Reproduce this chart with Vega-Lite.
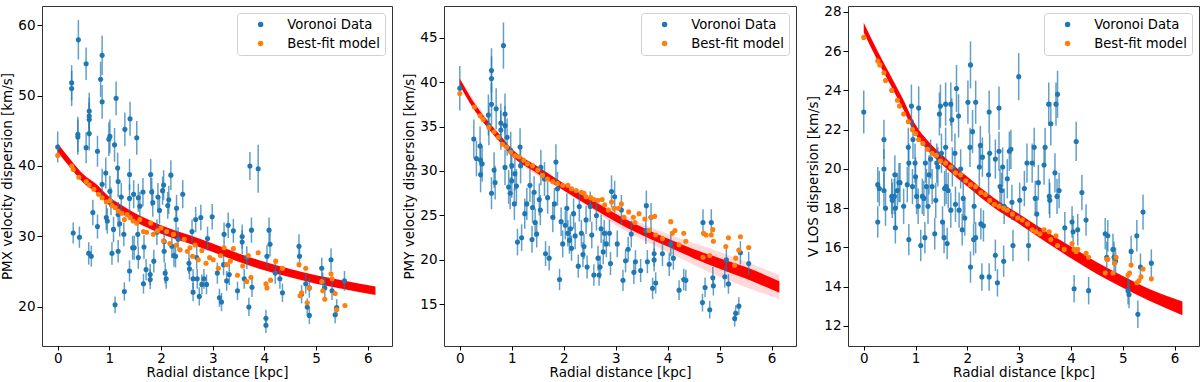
{
"$schema": "https://vega.github.io/schema/vega-lite/v6.json",
"background": "white",
"padding": {"left": 0, "top": 4, "right": 0, "bottom": 0},
"spacing": 9,
"config": {
 "view": {"stroke": "#333", "strokeWidth": 1},
 "axis": {"grid": false, "domain": false, "tickColor": "black", "tickSize": 5, "tickWidth": 1, "labelFont": "DejaVu Sans", "labelFontSize": 13.5, "labelColor": "black", "titleFont": "DejaVu Sans", "titleFontSize": 13.5, "titleFontWeight": "normal", "titleColor": "black", "labelPadding": 2, "titlePadding": 3},
 "axisX": {"tickSize": 4, "labelPadding": 1, "titlePadding": 1},
 "legend": {"orient": "top-right", "offset": 7, "fillColor": "white", "strokeColor": "#d0d0d0", "cornerRadius": 3, "padding": 5, "symbolType": "circle", "symbolSize": 30, "labelFont": "DejaVu Sans", "labelFontSize": 13.2, "labelColor": "black", "labelOffset": 20, "symbolOffset": 12, "rowPadding": 5}
},
"datasets": {
 "b1": [{"r":0,"v":42.0,"v2":43.2},{"r":0.25,"v":39.7,"v2":40.9},{"r":0.5,"v":37.6,"v2":38.8},{"r":0.75,"v":36.2,"v2":37.4},{"r":1,"v":34.4,"v2":35.6},{"r":1.25,"v":33.2,"v2":34.4},{"r":1.5,"v":32.1,"v2":33.3},{"r":1.75,"v":31.2,"v2":32.4},{"r":2,"v":30.4,"v2":31.6},{"r":2.5,"v":29.1,"v2":30.3},{"r":3,"v":27.8,"v2":29.0},{"r":3.5,"v":26.4,"v2":27.6},{"r":4,"v":25.2,"v2":26.4},{"r":4.5,"v":24.2,"v2":25.4},{"r":5,"v":23.3,"v2":24.5},{"r":5.5,"v":22.6,"v2":23.8},{"r":6.15,"v":21.7,"v2":22.9}],
 "d1": [{"r":0,"v":42.7,"e":2.2},{"r":0.27,"v":51.0,"e":2.5},{"r":0.27,"v":51.8,"e":2.5},{"r":0.3,"v":30.5,"e":1.5},{"r":0.4,"v":57.9,"e":2.8},{"r":0.39,"v":44.5,"e":2.5},{"r":0.39,"v":44.1,"e":2.5},{"r":0.42,"v":29.9,"e":1.5},{"r":0.55,"v":54.5,"e":2.3},{"r":0.55,"v":42.6,"e":2.2},{"r":0.61,"v":47.8,"e":2.6},{"r":0.61,"v":47.1,"e":2.6},{"r":0.61,"v":46.6,"e":2.4},{"r":0.61,"v":44.6,"e":2.4},{"r":0.6,"v":27.6,"e":1.6},{"r":0.65,"v":27.2,"e":1.5},{"r":0.68,"v":33.4,"e":1.8},{"r":0.77,"v":42.1,"e":2.2},{"r":0.77,"v":31.4,"e":1.7},{"r":0.83,"v":52.3,"e":2.5},{"r":0.86,"v":55.7,"e":2.8},{"r":0.86,"v":49.1,"e":2.4},{"r":0.86,"v":37.4,"e":2.2},{"r":0.93,"v":39.0,"e":2.2},{"r":0.94,"v":32.7,"e":1.8},{"r":0.96,"v":32.2,"e":1.8},{"r":1.01,"v":44.2,"e":2.4},{"r":0.99,"v":43.8,"e":2.4},{"r":1.01,"v":36.4,"e":2.2},{"r":1.03,"v":35.0,"e":2.0},{"r":1.05,"v":27.6,"e":1.6},{"r":1.08,"v":31.0,"e":1.8},{"r":1.1,"v":43.0,"e":2.4},{"r":1.11,"v":20.3,"e":1.2},{"r":1.13,"v":49.6,"e":2.4},{"r":1.16,"v":39.7,"e":2.2},{"r":1.17,"v":37.8,"e":2.2},{"r":1.17,"v":33.1,"e":1.8},{"r":1.2,"v":31.8,"e":1.8},{"r":1.17,"v":27.9,"e":1.6},{"r":1.23,"v":35.6,"e":2.0},{"r":1.28,"v":30.3,"e":1.7},{"r":1.29,"v":22.2,"e":1.3},{"r":1.3,"v":45.2,"e":2.4},{"r":1.39,"v":38.8,"e":2.2},{"r":1.39,"v":35.4,"e":2.0},{"r":1.39,"v":25.1,"e":1.5},{"r":1.4,"v":46.7,"e":2.4},{"r":1.45,"v":28.4,"e":1.7},{"r":1.48,"v":28.4,"e":1.7},{"r":1.47,"v":36.0,"e":2.0},{"r":1.53,"v":44.0,"e":2.4},{"r":1.55,"v":30.3,"e":1.7},{"r":1.56,"v":35.5,"e":2.0},{"r":1.56,"v":27.0,"e":1.6},{"r":1.59,"v":34.3,"e":2.0},{"r":1.65,"v":36.3,"e":2.0},{"r":1.66,"v":23.3,"e":1.4},{"r":1.67,"v":28.5,"e":1.7},{"r":1.71,"v":25.3,"e":1.5},{"r":1.79,"v":24.6,"e":1.5},{"r":1.79,"v":23.9,"e":1.4},{"r":1.8,"v":38.8,"e":2.2},{"r":1.82,"v":36.3,"e":2.0},{"r":1.84,"v":34.8,"e":2.0},{"r":1.86,"v":26.5,"e":1.6},{"r":1.92,"v":30.6,"e":1.8},{"r":1.94,"v":35.6,"e":2.0},{"r":1.97,"v":33.7,"e":1.9},{"r":2.03,"v":36.5,"e":2.0},{"r":2.05,"v":37.3,"e":2.1},{"r":2.06,"v":29.3,"e":1.7},{"r":2.06,"v":27.9,"e":1.6},{"r":2.08,"v":24.8,"e":1.5},{"r":2.1,"v":24.0,"e":1.4},{"r":2.13,"v":34.4,"e":1.9},{"r":2.15,"v":35.2,"e":2.0},{"r":2.19,"v":38.7,"e":2.1},{"r":2.21,"v":28.6,"e":1.7},{"r":2.25,"v":27.3,"e":1.6},{"r":2.28,"v":27.2,"e":1.6},{"r":2.29,"v":32.4,"e":1.8},{"r":2.3,"v":34.0,"e":1.9},{"r":2.33,"v":29.6,"e":1.7},{"r":2.42,"v":36.0,"e":2.0},{"r":2.54,"v":26.2,"e":1.5},{"r":2.55,"v":25.4,"e":1.5},{"r":2.6,"v":30.7,"e":1.7},{"r":2.62,"v":24.0,"e":1.4},{"r":2.62,"v":22.1,"e":1.3},{"r":2.67,"v":32.4,"e":1.8},{"r":2.69,"v":27.0,"e":1.6},{"r":2.7,"v":24.0,"e":1.4},{"r":2.74,"v":21.5,"e":1.3},{"r":2.77,"v":32.7,"e":1.8},{"r":2.79,"v":23.2,"e":1.4},{"r":2.83,"v":24.0,"e":1.4},{"r":2.88,"v":23.2,"e":1.4},{"r":2.9,"v":29.7,"e":1.7},{"r":2.99,"v":32.8,"e":1.8},{"r":3.09,"v":24.8,"e":1.5},{"r":3.13,"v":21.3,"e":1.3},{"r":3.17,"v":20.7,"e":1.3},{"r":3.21,"v":26.0,"e":1.5},{"r":3.22,"v":30.3,"e":1.7},{"r":3.27,"v":23.7,"e":1.4},{"r":3.3,"v":31.6,"e":1.8},{"r":3.32,"v":24.6,"e":1.5},{"r":3.4,"v":30.8,"e":1.7},{"r":3.48,"v":22.3,"e":1.3},{"r":3.57,"v":30.0,"e":1.7},{"r":3.57,"v":29.2,"e":1.7},{"r":3.61,"v":24.0,"e":1.4},{"r":3.66,"v":27.0,"e":1.6},{"r":3.7,"v":20.0,"e":1.3},{"r":3.72,"v":40.0,"e":2.0},{"r":3.75,"v":30.9,"e":1.8},{"r":3.76,"v":22.8,"e":1.4},{"r":3.88,"v":39.6,"e":3.4},{"r":4.03,"v":18.4,"e":1.2},{"r":4.03,"v":17.4,"e":1.1},{"r":4.05,"v":27.2,"e":1.6},{"r":4.09,"v":30.9,"e":1.8},{"r":4.11,"v":28.9,"e":1.7},{"r":4.21,"v":24.8,"e":1.5},{"r":4.3,"v":24.0,"e":1.4},{"r":4.35,"v":22.0,"e":1.3},{"r":4.67,"v":28.6,"e":1.7},{"r":4.68,"v":27.2,"e":1.6},{"r":4.72,"v":21.8,"e":1.3},{"r":4.8,"v":23.3,"e":1.4},{"r":4.83,"v":20.0,"e":1.2},{"r":4.87,"v":18.8,"e":1.2},{"r":4.87,"v":22.7,"e":1.4},{"r":5.11,"v":25.5,"e":1.5},{"r":5.13,"v":23.5,"e":1.4},{"r":5.17,"v":22.7,"e":1.4},{"r":5.29,"v":26.7,"e":1.6},{"r":5.31,"v":22.3,"e":1.3},{"r":5.37,"v":18.9,"e":1.2},{"r":5.4,"v":19.9,"e":1.2},{"r":5.55,"v":23.7,"e":1.4}],
 "m1": [{"r":0,"v":41.5},{"r":0.27,"v":40.0},{"r":0.3,"v":39.5},{"r":0.41,"v":38.4},{"r":0.55,"v":37.8},{"r":0.61,"v":37.3},{"r":0.7,"v":36.7},{"r":0.79,"v":36.0},{"r":0.86,"v":35.5},{"r":0.94,"v":34.9},{"r":1.01,"v":35.1},{"r":1.05,"v":34.4},{"r":1.11,"v":34.1},{"r":1.17,"v":33.6},{"r":1.24,"v":33.3},{"r":1.29,"v":32.4},{"r":1.34,"v":33.1},{"r":1.4,"v":32.7},{"r":1.46,"v":32.2},{"r":1.53,"v":31.9},{"r":1.59,"v":32.4},{"r":1.66,"v":30.7},{"r":1.72,"v":30.6},{"r":1.8,"v":31.9},{"r":1.85,"v":30.3},{"r":1.93,"v":30.8},{"r":2.0,"v":31.2},{"r":2.05,"v":29.4},{"r":2.11,"v":30.7},{"r":2.17,"v":29.0},{"r":2.24,"v":30.3},{"r":2.3,"v":28.8},{"r":2.37,"v":28.1},{"r":2.45,"v":29.6},{"r":2.51,"v":27.9},{"r":2.56,"v":28.4},{"r":2.61,"v":27.2},{"r":2.66,"v":28.8},{"r":2.72,"v":26.7},{"r":2.79,"v":28.0},{"r":2.87,"v":26.2},{"r":2.94,"v":27.0},{"r":3.01,"v":26.7},{"r":3.11,"v":25.5},{"r":3.15,"v":27.3},{"r":3.22,"v":28.4},{"r":3.27,"v":26.0},{"r":3.34,"v":26.5},{"r":3.4,"v":28.3},{"r":3.48,"v":24.5},{"r":3.58,"v":25.8},{"r":3.66,"v":23.6},{"r":3.69,"v":27.3},{"r":3.74,"v":24.2},{"r":3.88,"v":27.7},{"r":4.03,"v":23.3},{"r":4.05,"v":22.7},{"r":4.12,"v":23.8},{"r":4.22,"v":26.5},{"r":4.35,"v":25.5},{"r":4.67,"v":26.0},{"r":4.69,"v":21.6},{"r":4.72,"v":22.0},{"r":4.8,"v":25.5},{"r":4.83,"v":20.6},{"r":4.87,"v":22.7},{"r":5.11,"v":23.6},{"r":5.13,"v":22.3},{"r":5.17,"v":21.1},{"r":5.29,"v":24.7},{"r":5.31,"v":24.0},{"r":5.37,"v":21.9},{"r":5.4,"v":19.6},{"r":5.56,"v":20.2}],
 "b2o": [{"r":0,"v":39.6,"v2":40.4},{"r":1,"v":31.7,"v2":32.5},{"r":2,"v":27.8,"v2":28.6},{"r":2.5,"v":25.9,"v2":27.0},{"r":3,"v":23.9,"v2":25.5},{"r":4,"v":20.9,"v2":22.9},{"r":5,"v":18.1,"v2":20.9},{"r":6.15,"v":15.6,"v2":18.3}],
 "b2": [{"r":0,"v":39.6,"v2":40.4},{"r":0.25,"v":37.1,"v2":37.9},{"r":0.5,"v":35.1,"v2":35.9},{"r":0.75,"v":33.4,"v2":34.2},{"r":1,"v":31.7,"v2":32.5},{"r":1.5,"v":29.7,"v2":30.5},{"r":2,"v":27.8,"v2":28.6},{"r":2.5,"v":26.0,"v2":26.9},{"r":3,"v":24.3,"v2":25.2},{"r":3.5,"v":22.8,"v2":23.7},{"r":4,"v":21.5,"v2":22.4},{"r":4.5,"v":20.2,"v2":21.2},{"r":5,"v":19.0,"v2":20.2},{"r":5.5,"v":17.9,"v2":19.2},{"r":6.15,"v":16.3,"v2":17.6}],
 "d2": [{"r":0,"v":39.3,"e":2.5},{"r":0.27,"v":33.6,"e":2.2},{"r":0.32,"v":31.4,"e":2.0},{"r":0.39,"v":32.8,"e":2.2},{"r":0.4,"v":31.2,"e":2.0},{"r":0.4,"v":29.6,"e":2.0},{"r":0.43,"v":30.8,"e":2.0},{"r":0.55,"v":36.3,"e":2.3},{"r":0.56,"v":35.1,"e":2.2},{"r":0.61,"v":41.3,"e":2.5},{"r":0.61,"v":40.4,"e":2.5},{"r":0.61,"v":37.5,"e":2.3},{"r":0.61,"v":27.5,"e":1.8},{"r":0.66,"v":30.1,"e":2.0},{"r":0.68,"v":28.7,"e":1.9},{"r":0.7,"v":37.0,"e":2.3},{"r":0.79,"v":35.4,"e":2.2},{"r":0.79,"v":34.6,"e":2.2},{"r":0.84,"v":44.1,"e":2.6},{"r":0.87,"v":36.4,"e":2.3},{"r":0.87,"v":35.1,"e":2.2},{"r":0.87,"v":30.4,"e":2.0},{"r":0.91,"v":33.8,"e":2.1},{"r":0.94,"v":28.2,"e":1.9},{"r":0.97,"v":27.5,"e":1.8},{"r":0.98,"v":32.3,"e":2.1},{"r":1.0,"v":30.6,"e":2.0},{"r":1.0,"v":28.9,"e":1.9},{"r":1.05,"v":26.3,"e":1.8},{"r":1.06,"v":29.7,"e":1.9},{"r":1.09,"v":28.3,"e":1.9},{"r":1.11,"v":22.0,"e":1.5},{"r":1.16,"v":32.7,"e":2.1},{"r":1.17,"v":30.6,"e":2.0},{"r":1.19,"v":22.5,"e":1.5},{"r":1.25,"v":25.2,"e":1.7},{"r":1.29,"v":26.3,"e":1.8},{"r":1.35,"v":28.4,"e":1.9},{"r":1.39,"v":22.3,"e":1.5},{"r":1.4,"v":25.9,"e":1.7},{"r":1.43,"v":27.6,"e":1.8},{"r":1.45,"v":24.2,"e":1.6},{"r":1.48,"v":22.9,"e":1.5},{"r":1.53,"v":26.8,"e":1.8},{"r":1.55,"v":25.6,"e":1.7},{"r":1.56,"v":30.4,"e":2.0},{"r":1.63,"v":29.1,"e":1.9},{"r":1.65,"v":20.7,"e":1.4},{"r":1.69,"v":27.0,"e":1.8},{"r":1.72,"v":20.2,"e":1.4},{"r":1.79,"v":24.8,"e":1.7},{"r":1.82,"v":26.3,"e":1.8},{"r":1.85,"v":31.0,"e":2.0},{"r":1.88,"v":28.0,"e":1.9},{"r":1.92,"v":17.8,"e":1.2},{"r":1.95,"v":24.3,"e":1.6},{"r":1.98,"v":21.8,"e":1.5},{"r":2.03,"v":23.9,"e":1.6},{"r":2.06,"v":25.8,"e":1.7},{"r":2.08,"v":23.0,"e":1.5},{"r":2.11,"v":22.2,"e":1.5},{"r":2.13,"v":23.5,"e":1.6},{"r":2.15,"v":21.3,"e":1.4},{"r":2.19,"v":25.2,"e":1.7},{"r":2.22,"v":22.7,"e":1.5},{"r":2.28,"v":19.3,"e":1.3},{"r":2.3,"v":26.0,"e":1.7},{"r":2.34,"v":23.0,"e":1.5},{"r":2.37,"v":20.6,"e":1.4},{"r":2.39,"v":21.5,"e":1.4},{"r":2.43,"v":24.5,"e":1.6},{"r":2.45,"v":19.2,"e":1.3},{"r":2.51,"v":26.0,"e":1.7},{"r":2.54,"v":22.8,"e":1.5},{"r":2.58,"v":18.3,"e":1.2},{"r":2.63,"v":25.0,"e":1.7},{"r":2.66,"v":20.2,"e":1.4},{"r":2.68,"v":18.3,"e":1.2},{"r":2.7,"v":19.2,"e":1.3},{"r":2.72,"v":23.5,"e":1.6},{"r":2.76,"v":20.9,"e":1.4},{"r":2.78,"v":23.0,"e":1.5},{"r":2.82,"v":21.8,"e":1.5},{"r":2.88,"v":23.0,"e":1.5},{"r":2.9,"v":19.6,"e":1.3},{"r":2.92,"v":27.7,"e":1.8},{"r":2.98,"v":27.1,"e":1.8},{"r":3.03,"v":21.8,"e":1.5},{"r":3.11,"v":25.6,"e":1.7},{"r":3.14,"v":17.7,"e":1.2},{"r":3.19,"v":19.9,"e":1.3},{"r":3.24,"v":21.2,"e":1.4},{"r":3.3,"v":22.9,"e":1.5},{"r":3.35,"v":18.6,"e":1.3},{"r":3.38,"v":19.8,"e":1.3},{"r":3.48,"v":18.8,"e":1.3},{"r":3.58,"v":23.3,"e":1.5},{"r":3.59,"v":26.1,"e":1.7},{"r":3.61,"v":19.8,"e":1.3},{"r":3.68,"v":24.8,"e":1.6},{"r":3.71,"v":16.8,"e":1.2},{"r":3.74,"v":20.7,"e":1.4},{"r":3.74,"v":20.0,"e":1.3},{"r":3.77,"v":17.4,"e":1.2},{"r":3.9,"v":20.7,"e":1.4},{"r":4.03,"v":19.5,"e":1.3},{"r":4.06,"v":21.8,"e":1.4},{"r":4.11,"v":20.2,"e":1.3},{"r":4.22,"v":16.6,"e":1.1},{"r":4.31,"v":17.8,"e":1.2},{"r":4.35,"v":17.7,"e":1.2},{"r":4.67,"v":15.2,"e":1.0},{"r":4.72,"v":16.9,"e":1.1},{"r":4.68,"v":24.2,"e":1.5},{"r":4.81,"v":14.4,"e":1.0},{"r":4.84,"v":24.2,"e":1.5},{"r":4.87,"v":18.0,"e":1.2},{"r":4.88,"v":17.1,"e":1.1},{"r":5.1,"v":18.1,"e":1.2},{"r":5.13,"v":20.0,"e":1.3},{"r":5.17,"v":17.3,"e":1.1},{"r":5.29,"v":13.4,"e":0.9},{"r":5.31,"v":14.0,"e":0.9},{"r":5.37,"v":14.8,"e":1.0},{"r":5.4,"v":20.8,"e":1.3},{"r":5.56,"v":19.6,"e":1.3}],
 "m2": [{"r":0,"v":38.7},{"r":0.28,"v":37.2},{"r":0.39,"v":36.2},{"r":0.45,"v":35.8},{"r":0.56,"v":34.9},{"r":0.66,"v":34.4},{"r":0.74,"v":33.8},{"r":0.82,"v":33.0},{"r":0.9,"v":32.7},{"r":0.98,"v":32.1},{"r":1.06,"v":31.7},{"r":1.14,"v":31.6},{"r":1.23,"v":31.2},{"r":1.3,"v":30.8},{"r":1.4,"v":30.6},{"r":1.5,"v":30.1},{"r":1.59,"v":29.5},{"r":1.69,"v":29.1},{"r":1.79,"v":28.8},{"r":1.88,"v":28.6},{"r":1.98,"v":28.4},{"r":2.08,"v":28.4},{"r":2.15,"v":28.0},{"r":2.24,"v":27.8},{"r":2.34,"v":27.6},{"r":2.39,"v":27.5},{"r":2.43,"v":27.1},{"r":2.52,"v":27.0},{"r":2.58,"v":26.8},{"r":2.66,"v":26.7},{"r":2.74,"v":26.8},{"r":2.79,"v":26.2},{"r":2.86,"v":25.6},{"r":2.92,"v":26.5},{"r":2.97,"v":25.8},{"r":3.05,"v":25.8},{"r":3.11,"v":26.3},{"r":3.16,"v":24.8},{"r":3.25,"v":25.4},{"r":3.34,"v":24.8},{"r":3.37,"v":24.2},{"r":3.45,"v":25.2},{"r":3.56,"v":24.6},{"r":3.64,"v":23.3},{"r":3.68,"v":24.8},{"r":3.75,"v":24.9},{"r":3.77,"v":22.8},{"r":3.9,"v":22.4},{"r":4.06,"v":24.3},{"r":4.09,"v":23.0},{"r":4.14,"v":23.3},{"r":4.22,"v":21.7},{"r":4.31,"v":23.0},{"r":4.35,"v":22.1},{"r":4.68,"v":20.3},{"r":4.69,"v":23.0},{"r":4.74,"v":22.8},{"r":4.81,"v":20.5},{"r":4.84,"v":22.8},{"r":4.87,"v":23.4},{"r":4.88,"v":22.1},{"r":5.12,"v":21.5},{"r":5.17,"v":22.5},{"r":5.29,"v":19.4},{"r":5.31,"v":20.2},{"r":5.37,"v":21.1},{"r":5.4,"v":22.6},{"r":5.56,"v":21.4}],
 "b3": [{"r":0,"v":26.95,"v2":27.45},{"r":0.25,"v":25.6,"v2":26.1},{"r":0.5,"v":24.35,"v2":24.85},{"r":0.75,"v":23.1,"v2":23.6},{"r":1,"v":21.75,"v2":22.25},{"r":1.25,"v":20.9,"v2":21.4},{"r":1.5,"v":20.25,"v2":20.75},{"r":1.75,"v":19.65,"v2":20.15},{"r":2,"v":19.1,"v2":19.6},{"r":2.5,"v":18.05,"v2":18.55},{"r":3,"v":17.2,"v2":17.7},{"r":3.5,"v":16.3,"v2":16.85},{"r":4,"v":15.45,"v2":16.05},{"r":4.5,"v":14.65,"v2":15.25},{"r":5,"v":13.95,"v2":14.55},{"r":5.5,"v":13.3,"v2":13.9},{"r":6.15,"v":12.55,"v2":13.25}],
 "d3": [{"r":0,"v":22.9,"e":1.1},{"r":0.27,"v":19.2,"e":0.9},{"r":0.27,"v":17.3,"e":0.8},{"r":0.3,"v":19.0,"e":0.9},{"r":0.39,"v":21.5,"e":1.0},{"r":0.39,"v":20.0,"e":1.0},{"r":0.39,"v":18.9,"e":0.9},{"r":0.42,"v":18.0,"e":0.9},{"r":0.54,"v":18.6,"e":0.9},{"r":0.55,"v":18.4,"e":0.9},{"r":0.59,"v":18.6,"e":0.9},{"r":0.6,"v":19.7,"e":1.0},{"r":0.61,"v":18.0,"e":0.9},{"r":0.61,"v":17.0,"e":0.8},{"r":0.65,"v":18.9,"e":0.9},{"r":0.68,"v":19.3,"e":1.0},{"r":0.7,"v":19.3,"e":1.0},{"r":0.77,"v":18.1,"e":0.9},{"r":0.84,"v":19.2,"e":0.9},{"r":0.86,"v":21.1,"e":1.0},{"r":0.87,"v":20.3,"e":1.0},{"r":0.87,"v":16.4,"e":0.8},{"r":0.92,"v":23.2,"e":1.1},{"r":0.94,"v":19.1,"e":0.9},{"r":0.95,"v":21.5,"e":1.0},{"r":0.99,"v":20.3,"e":1.0},{"r":1.0,"v":19.6,"e":1.0},{"r":1.02,"v":18.6,"e":0.9},{"r":1.05,"v":18.1,"e":0.9},{"r":1.06,"v":23.1,"e":1.1},{"r":1.1,"v":16.1,"e":0.8},{"r":1.13,"v":18.6,"e":0.9},{"r":1.16,"v":18.5,"e":0.9},{"r":1.18,"v":16.5,"e":0.8},{"r":1.19,"v":20.3,"e":1.0},{"r":1.21,"v":19.1,"e":0.9},{"r":1.24,"v":18.1,"e":0.9},{"r":1.26,"v":19.7,"e":1.0},{"r":1.29,"v":20.5,"e":1.0},{"r":1.32,"v":19.1,"e":0.9},{"r":1.37,"v":16.7,"e":0.8},{"r":1.39,"v":18.4,"e":0.9},{"r":1.41,"v":20.3,"e":1.0},{"r":1.43,"v":20.1,"e":1.0},{"r":1.46,"v":22.8,"e":1.1},{"r":1.48,"v":23.2,"e":1.1},{"r":1.5,"v":20.8,"e":1.0},{"r":1.52,"v":17.3,"e":0.8},{"r":1.55,"v":16.5,"e":0.8},{"r":1.56,"v":19.0,"e":0.9},{"r":1.58,"v":23.3,"e":1.1},{"r":1.58,"v":21.1,"e":1.0},{"r":1.59,"v":19.1,"e":0.9},{"r":1.61,"v":16.2,"e":0.8},{"r":1.63,"v":18.9,"e":0.9},{"r":1.68,"v":23.3,"e":1.1},{"r":1.68,"v":17.9,"e":0.9},{"r":1.7,"v":22.5,"e":1.1},{"r":1.71,"v":20.1,"e":1.0},{"r":1.76,"v":20.8,"e":1.0},{"r":1.77,"v":18.2,"e":0.9},{"r":1.79,"v":24.1,"e":1.2},{"r":1.83,"v":22.7,"e":1.1},{"r":1.84,"v":17.9,"e":0.9},{"r":1.87,"v":20.0,"e":1.0},{"r":1.9,"v":16.9,"e":0.8},{"r":1.92,"v":18.5,"e":0.9},{"r":1.95,"v":17.5,"e":0.9},{"r":2.01,"v":23.4,"e":1.1},{"r":2.05,"v":21.1,"e":1.0},{"r":2.06,"v":25.3,"e":1.2},{"r":2.06,"v":15.0,"e":0.8},{"r":2.1,"v":21.9,"e":1.1},{"r":2.12,"v":16.4,"e":0.8},{"r":2.13,"v":18.1,"e":0.9},{"r":2.16,"v":23.4,"e":1.1},{"r":2.16,"v":16.5,"e":0.8},{"r":2.23,"v":20.1,"e":1.0},{"r":2.25,"v":21.2,"e":1.0},{"r":2.26,"v":17.2,"e":0.8},{"r":2.28,"v":14.5,"e":0.7},{"r":2.29,"v":20.6,"e":1.0},{"r":2.31,"v":17.1,"e":0.8},{"r":2.41,"v":19.7,"e":1.0},{"r":2.42,"v":22.9,"e":1.1},{"r":2.43,"v":20.8,"e":1.0},{"r":2.42,"v":14.5,"e":0.7},{"r":2.54,"v":20.5,"e":1.0},{"r":2.54,"v":15.6,"e":0.8},{"r":2.58,"v":14.2,"e":0.7},{"r":2.61,"v":23.1,"e":1.1},{"r":2.61,"v":20.9,"e":1.0},{"r":2.63,"v":19.1,"e":0.9},{"r":2.66,"v":18.9,"e":0.9},{"r":2.68,"v":20.1,"e":1.0},{"r":2.7,"v":15.3,"e":0.8},{"r":2.71,"v":18.1,"e":0.9},{"r":2.77,"v":19.5,"e":1.0},{"r":2.81,"v":20.9,"e":1.0},{"r":2.84,"v":21.0,"e":1.0},{"r":2.86,"v":18.3,"e":0.9},{"r":2.88,"v":16.1,"e":0.8},{"r":2.99,"v":24.7,"e":1.2},{"r":3.01,"v":18.4,"e":0.9},{"r":3.1,"v":19.0,"e":0.9},{"r":3.15,"v":20.3,"e":1.0},{"r":3.18,"v":16.1,"e":0.8},{"r":3.25,"v":20.3,"e":1.0},{"r":3.29,"v":21.1,"e":1.0},{"r":3.31,"v":18.5,"e":0.9},{"r":3.34,"v":17.7,"e":0.9},{"r":3.37,"v":19.3,"e":0.9},{"r":3.48,"v":20.2,"e":1.0},{"r":3.5,"v":21.1,"e":1.0},{"r":3.57,"v":23.3,"e":1.1},{"r":3.58,"v":18.6,"e":0.9},{"r":3.59,"v":18.4,"e":0.9},{"r":3.61,"v":22.3,"e":1.1},{"r":3.69,"v":19.8,"e":1.0},{"r":3.71,"v":23.3,"e":1.1},{"r":3.73,"v":18.6,"e":0.9},{"r":3.74,"v":23.8,"e":1.2},{"r":3.77,"v":18.9,"e":0.9},{"r":3.88,"v":17.0,"e":0.8},{"r":4.02,"v":17.3,"e":0.8},{"r":4.04,"v":16.8,"e":0.8},{"r":4.06,"v":13.9,"e":0.7},{"r":4.1,"v":21.4,"e":1.0},{"r":4.13,"v":16.9,"e":0.8},{"r":4.21,"v":18.8,"e":0.9},{"r":4.29,"v":17.4,"e":0.8},{"r":4.34,"v":13.8,"e":0.7},{"r":4.66,"v":16.7,"e":0.8},{"r":4.69,"v":15.5,"e":0.8},{"r":4.71,"v":16.6,"e":0.8},{"r":4.81,"v":15.9,"e":0.8},{"r":4.83,"v":15.5,"e":0.8},{"r":4.86,"v":15.3,"e":0.7},{"r":5.1,"v":13.8,"e":0.7},{"r":5.12,"v":13.6,"e":0.7},{"r":5.16,"v":15.8,"e":0.8},{"r":5.27,"v":16.6,"e":0.8},{"r":5.29,"v":12.6,"e":0.7},{"r":5.34,"v":15.0,"e":0.7},{"r":5.39,"v":17.8,"e":0.9},{"r":5.55,"v":15.2,"e":0.7}],
 "m3": [{"r":0,"v":26.7},{"r":0.27,"v":25.5},{"r":0.31,"v":25.3},{"r":0.39,"v":24.9},{"r":0.42,"v":24.5},{"r":0.54,"v":24.0},{"r":0.65,"v":23.5},{"r":0.69,"v":23.2},{"r":0.77,"v":22.8},{"r":0.86,"v":22.4},{"r":0.94,"v":22.0},{"r":1.0,"v":21.8},{"r":1.06,"v":21.5},{"r":1.14,"v":21.3},{"r":1.23,"v":21.0},{"r":1.32,"v":20.8},{"r":1.4,"v":20.7},{"r":1.48,"v":20.4},{"r":1.58,"v":20.3},{"r":1.68,"v":20.1},{"r":1.77,"v":19.8},{"r":1.87,"v":19.7},{"r":1.97,"v":19.4},{"r":2.06,"v":19.2},{"r":2.16,"v":19.1},{"r":2.26,"v":18.8},{"r":2.35,"v":18.7},{"r":2.43,"v":18.4},{"r":2.52,"v":18.2},{"r":2.61,"v":18.1},{"r":2.7,"v":18.0},{"r":2.77,"v":17.9},{"r":2.87,"v":17.7},{"r":2.97,"v":17.5},{"r":3.06,"v":17.4},{"r":3.16,"v":17.2},{"r":3.25,"v":16.9},{"r":3.32,"v":16.8},{"r":3.4,"v":16.7},{"r":3.48,"v":16.9},{"r":3.58,"v":16.8},{"r":3.61,"v":16.4},{"r":3.71,"v":16.6},{"r":3.74,"v":16.1},{"r":3.87,"v":15.9},{"r":4.02,"v":16.2},{"r":4.06,"v":15.9},{"r":4.1,"v":15.8},{"r":4.13,"v":15.9},{"r":4.29,"v":15.7},{"r":4.34,"v":15.5},{"r":4.66,"v":14.7},{"r":4.69,"v":15.4},{"r":4.71,"v":15.4},{"r":4.81,"v":14.7},{"r":4.84,"v":15.2},{"r":4.87,"v":15.5},{"r":5.1,"v":14.6},{"r":5.13,"v":14.7},{"r":5.16,"v":15.1},{"r":5.27,"v":14.2},{"r":5.31,"v":14.3},{"r":5.35,"v":14.5},{"r":5.39,"v":14.9},{"r":5.55,"v":14.4}]
},
"hconcat": [
 {
  "width": 350, "height": 340,
  "encoding": {
   "x": {"field": "r", "type": "quantitative", "scale": {"domain": [-0.304, 6.47], "nice": false, "zero": false}, "axis": {"values": [0,1,2,3,4,5,6]}, "title": "Radial distance [kpc]"},
   "y": {"field": "v", "type": "quantitative", "scale": {"domain": [14.46, 62.7], "nice": false, "zero": false}, "axis": {"values": [20,30,40,50,60]}, "title": "PMX velocity dispersion [km/s]"}
  },
  "layer": [
   {"data": {"name": "b1"}, "mark": {"type": "area", "color": "#ff0000", "interpolate": "monotone"}, "encoding": {"y2": {"field": "v2"}}},
   {"data": {"name": "d1"}, "mark": {"type": "errorbar", "color": "#1f77b4", "rule": {"strokeWidth": 1.5, "opacity": 0.7}}, "encoding": {"yError": {"field": "e"}}},
   {"data": {"name": "d1"}, "mark": {"type": "circle", "size": 26, "opacity": 1}, "encoding": {"color": {"datum": "Voronoi Data", "type": "nominal", "scale": {"domain": ["Voronoi Data", "Best-fit model"], "range": ["#1f77b4", "#ff7f0e"]}, "legend": {"title": null}}}},
   {"data": {"name": "m1"}, "mark": {"type": "circle", "size": 26, "opacity": 1}, "encoding": {"color": {"datum": "Best-fit model", "type": "nominal", "scale": {"domain": ["Voronoi Data", "Best-fit model"], "range": ["#1f77b4", "#ff7f0e"]}, "legend": {"title": null}}}}
  ]
 },
 {
  "width": 352, "height": 340,
  "encoding": {
   "x": {"field": "r", "type": "quantitative", "scale": {"domain": [-0.304, 6.47], "nice": false, "zero": false}, "axis": {"values": [0,1,2,3,4,5,6]}, "title": "Radial distance [kpc]"},
   "y": {"field": "v", "type": "quantitative", "scale": {"domain": [10.32, 48.55], "nice": false, "zero": false}, "axis": {"values": [15,20,25,30,35,40,45]}, "title": "PMY velocity dispersion [km/s]"}
  },
  "layer": [
   {"data": {"name": "b2o"}, "mark": {"type": "area", "color": "#ff0000", "opacity": 0.15, "interpolate": "monotone"}, "encoding": {"y2": {"field": "v2"}}},
   {"data": {"name": "b2"}, "mark": {"type": "area", "color": "#ff0000", "interpolate": "monotone"}, "encoding": {"y2": {"field": "v2"}}},
   {"data": {"name": "d2"}, "mark": {"type": "errorbar", "color": "#1f77b4", "rule": {"strokeWidth": 1.5, "opacity": 0.7}}, "encoding": {"yError": {"field": "e"}}},
   {"data": {"name": "d2"}, "mark": {"type": "circle", "size": 26, "opacity": 1}, "encoding": {"color": {"datum": "Voronoi Data", "type": "nominal", "scale": {"domain": ["Voronoi Data", "Best-fit model"], "range": ["#1f77b4", "#ff7f0e"]}, "legend": {"title": null}}}},
   {"data": {"name": "m2"}, "mark": {"type": "circle", "size": 26, "opacity": 1}, "encoding": {"color": {"datum": "Best-fit model", "type": "nominal", "scale": {"domain": ["Voronoi Data", "Best-fit model"], "range": ["#1f77b4", "#ff7f0e"]}, "legend": {"title": null}}}}
  ]
 },
 {
  "width": 351, "height": 340,
  "encoding": {
   "x": {"field": "r", "type": "quantitative", "scale": {"domain": [-0.304, 6.47], "nice": false, "zero": false}, "axis": {"values": [0,1,2,3,4,5,6]}, "title": "Radial distance [kpc]"},
   "y": {"field": "v", "type": "quantitative", "scale": {"domain": [10.98, 28.3], "nice": false, "zero": false}, "axis": {"values": [12,14,16,18,20,22,24,26,28]}, "title": "V LOS dispersion [km/s]"}
  },
  "layer": [
   {"data": {"name": "b3"}, "mark": {"type": "area", "color": "#ff0000", "interpolate": "monotone"}, "encoding": {"y2": {"field": "v2"}}},
   {"data": {"name": "d3"}, "mark": {"type": "errorbar", "color": "#1f77b4", "rule": {"strokeWidth": 1.5, "opacity": 0.7}}, "encoding": {"yError": {"field": "e"}}},
   {"data": {"name": "d3"}, "mark": {"type": "circle", "size": 26, "opacity": 1}, "encoding": {"color": {"datum": "Voronoi Data", "type": "nominal", "scale": {"domain": ["Voronoi Data", "Best-fit model"], "range": ["#1f77b4", "#ff7f0e"]}, "legend": {"title": null}}}},
   {"data": {"name": "m3"}, "mark": {"type": "circle", "size": 26, "opacity": 1}, "encoding": {"color": {"datum": "Best-fit model", "type": "nominal", "scale": {"domain": ["Voronoi Data", "Best-fit model"], "range": ["#1f77b4", "#ff7f0e"]}, "legend": {"title": null}}}}
  ]
 }
],
"resolve": {"scale": {"x": "independent", "y": "independent", "color": "independent"}, "legend": {"color": "independent"}}
}
